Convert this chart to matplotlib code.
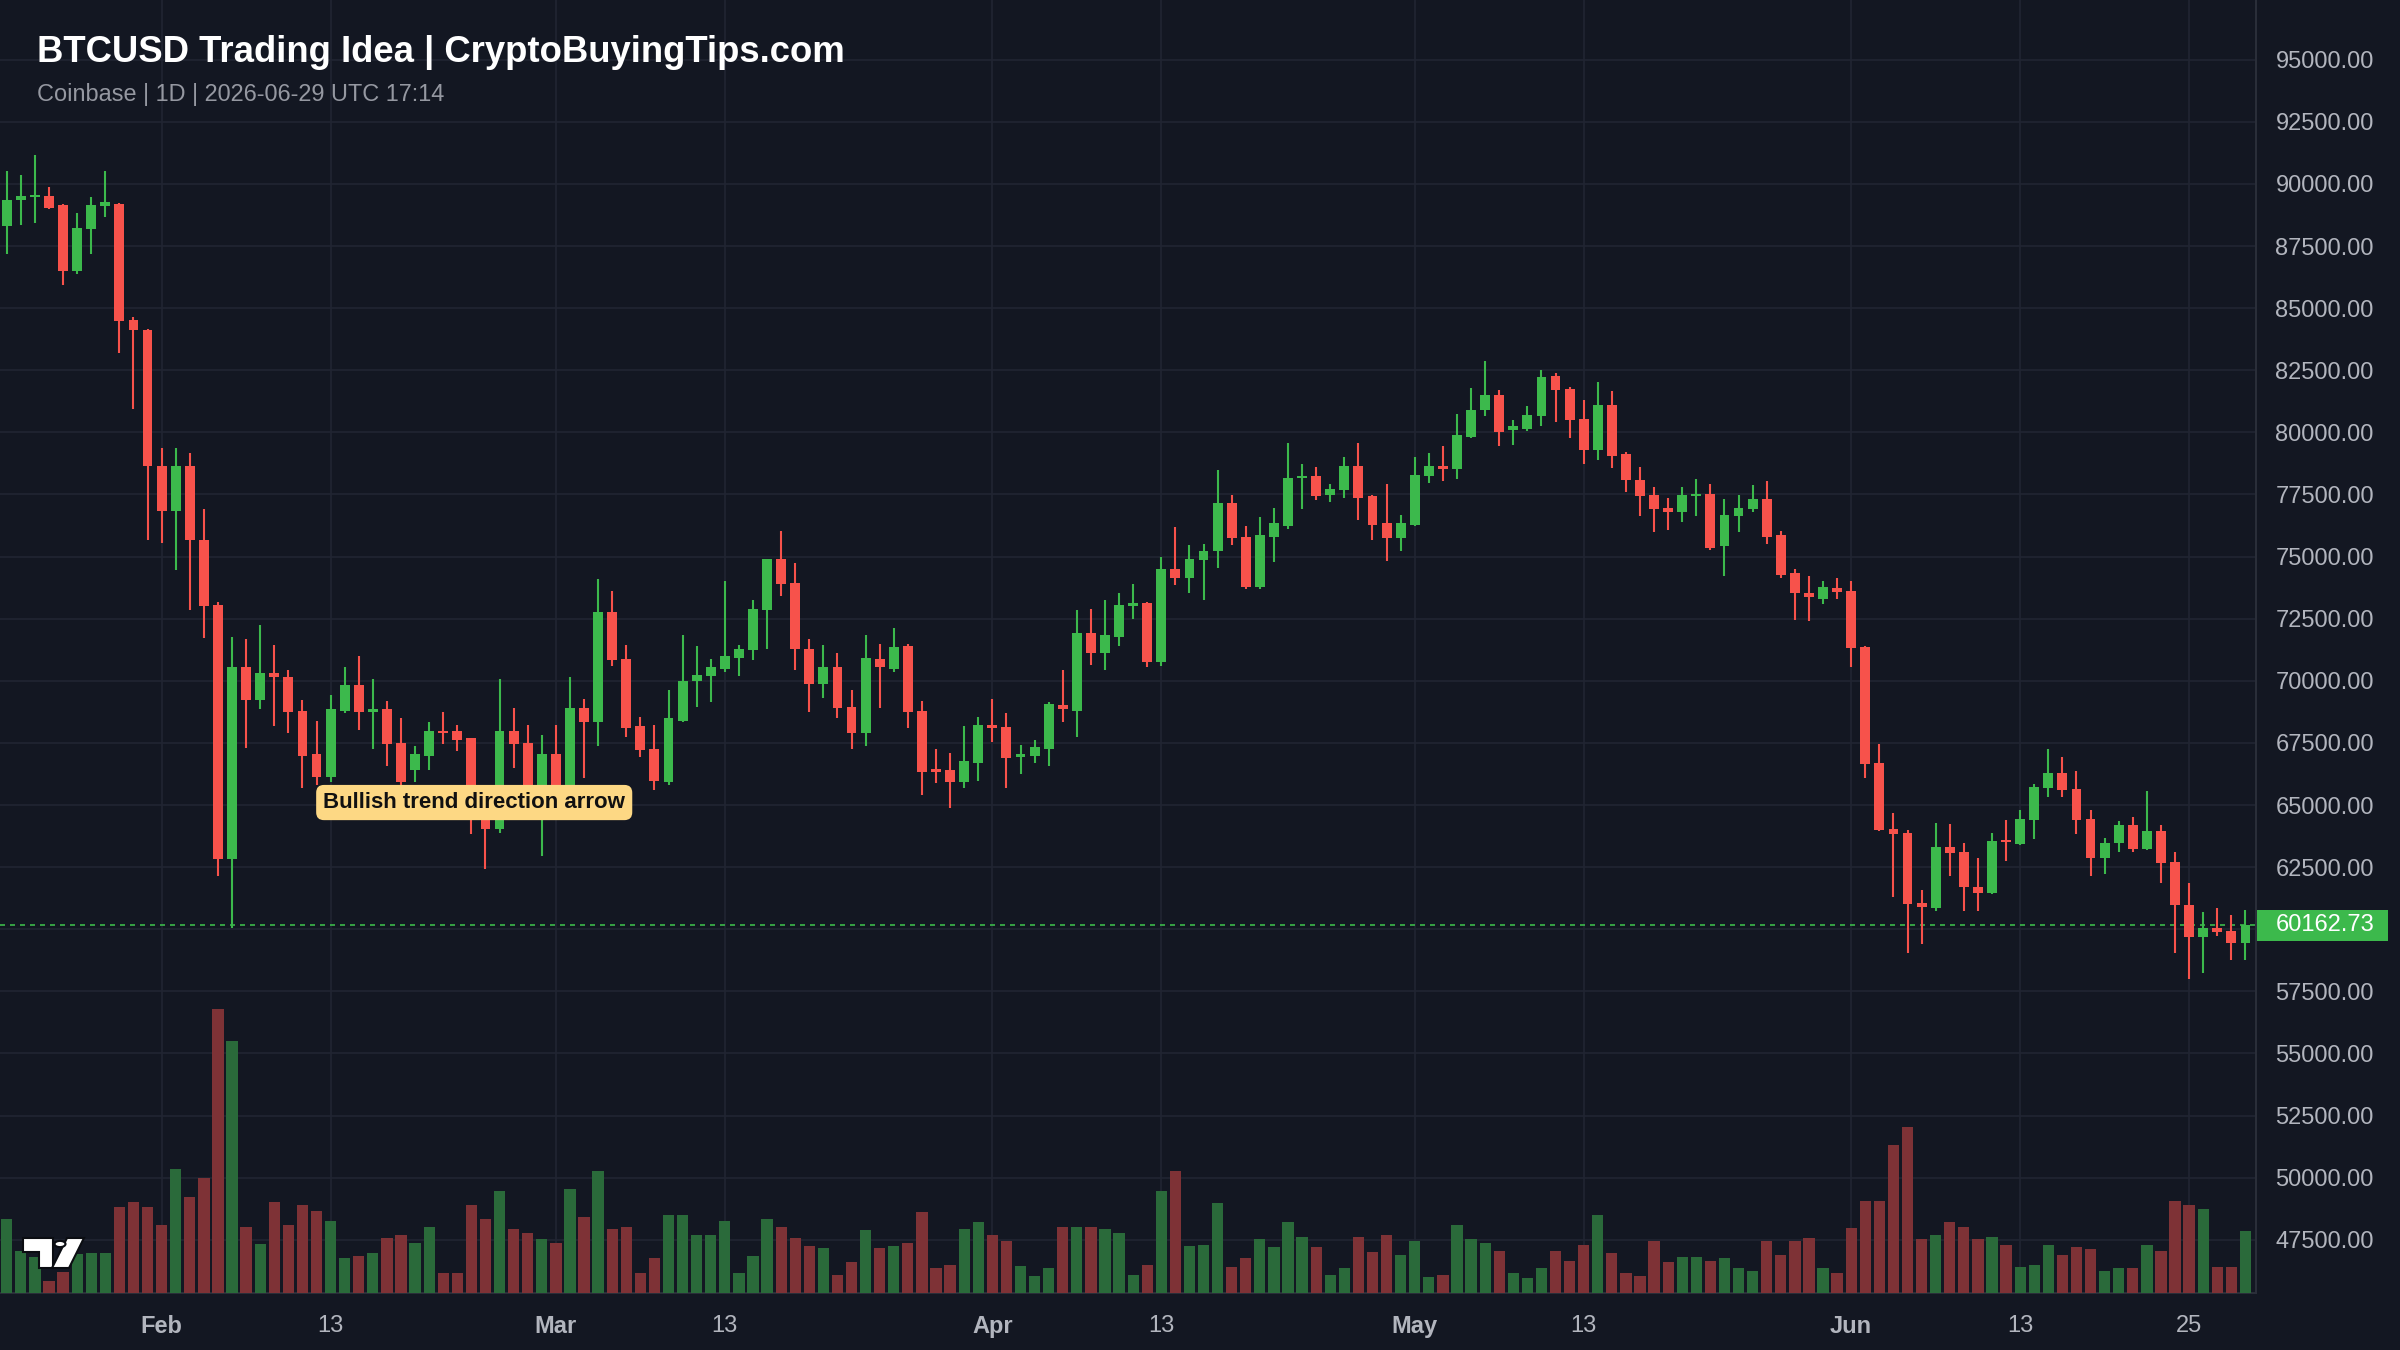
import numpy as np
import pandas as pd
import matplotlib
matplotlib.use("Agg")
import matplotlib.pyplot as plt
from matplotlib.patches import Rectangle, Polygon, Circle
from matplotlib.transforms import blended_transform_factory

# daily candles, Coinbase BTCUSD, 2026-01-21 .. 2026-06-29
start_date = "2026-01-21"
opens = [88290, 89350, 89460, 89500, 89140, 86480, 88170, 89120, 89210, 84520,
         84140, 78660, 76850, 78660, 75680, 73070, 62810, 70540, 69230, 70310,
         70160, 68780, 67040, 66140, 68800, 69820, 68740, 68850, 67500, 66410,
         66980, 67990, 67990, 67680, 65350, 64050, 67990, 67500, 65690, 67040,
         65580, 68890, 68350, 72750, 70880, 68170, 67270, 65920, 68400, 69980,
         70200, 70490, 70920, 71220, 72860, 74890, 73920, 71280, 69860, 70540,
         68960, 67880, 70880, 70490, 71400, 68800, 66440, 66410, 65920, 66710,
         68240, 68130, 66930, 66980, 67270, 69030, 68800, 71940, 71100, 71780,
         73020, 73130, 70770, 74490, 74150, 74870, 75210, 77150, 75770, 73760,
         75790, 76240, 78160, 78250, 77460, 77690, 78660, 77420, 76340, 75730,
         76290, 78250, 78660, 78540, 79830, 80910, 81500, 80080, 80120, 80640,
         82270, 81750, 80530, 79290, 81090, 79110, 78090, 77460, 76970, 76790,
         77420, 77530, 75430, 76630, 76920, 77300, 75880, 74330, 73520, 73310,
         73740, 73630, 71370, 66710, 64050, 63890, 61070, 60840, 63320, 63100,
         61700, 61450, 63590, 63440, 64410, 65690, 66300, 65650, 64450, 62870,
         63480, 64180, 63210, 63960, 62690, 60960, 59670, 60050, 59940, 59450]
highs = [90500, 90340, 91170, 89870, 89200, 88810, 89480, 90500, 89250, 84630,
         84150, 79380, 79380, 79150, 76900, 73180, 71780, 71670, 72230, 71440,
         70430, 69230, 68400, 69410, 70540, 70990, 70090, 69190, 68510, 67380,
         68330, 68740, 68240, 67700, 65690, 70090, 68890, 68240, 67830, 68240,
         70160, 69250, 74100, 73630, 71440, 68560, 68240, 69640, 71850, 71400,
         70880, 74030, 71440, 73250, 74900, 76020, 74760, 71670, 71440, 71100,
         69640, 71850, 71490, 72120, 71490, 69190, 67270, 67110, 68170, 68560,
         69250, 68690, 67430, 67610, 69140, 70430, 72840, 72910, 73250, 73540,
         73880, 73180, 74980, 76180, 75460, 75500, 78480, 77460, 76240, 76580,
         76970, 79560, 78730, 78590, 77940, 79000, 79560, 77490, 77940, 76670,
         79000, 79150, 79450, 80730, 81770, 82870, 81700, 80510, 81070, 82490,
         82380, 81810, 81320, 82040, 81660, 79220, 78590, 77800, 77370, 77820,
         78140, 77910, 77300, 77460, 77870, 78050, 76020, 74490, 74220, 74030,
         74150, 74030, 71400, 67450, 64680, 64000, 61560, 64290, 64230, 63480,
         62870, 63890, 64380, 64790, 65850, 67270, 66930, 66370, 64790, 63660,
         64340, 64520, 65580, 64180, 63100, 61860, 60690, 60840, 60570, 60780]
lows = [87180, 88350, 88440, 88990, 85940, 86390, 87160, 88670, 83210, 80960,
        75660, 75550, 74440, 72840, 71710, 62130, 60050, 67290, 68850, 68170,
        67880, 65690, 65800, 65920, 68690, 68010, 67270, 66590, 65470, 65920,
        66410, 67450, 67160, 63820, 62420, 63890, 66480, 65130, 62940, 65130,
        65240, 66100, 67380, 70610, 67720, 66930, 65620, 65800, 68350, 68960,
        69140, 70360, 70200, 70830, 71280, 73430, 70430, 68740, 69300, 68510,
        67270, 67380, 68920, 70360, 68100, 65420, 65870, 64900, 65690, 65960,
        67540, 65690, 66260, 66710, 66590, 68350, 67720, 70650, 70430, 71400,
        72500, 70540, 70610, 73850, 73520, 73250, 74550, 75460, 73700, 73700,
        74780, 76130, 76920, 77260, 77190, 77350, 76470, 75660, 74820, 75230,
        76220, 77980, 78050, 78140, 79790, 80640, 79450, 79510, 80060, 80240,
        80420, 79790, 78730, 78880, 78550, 77580, 76630, 76000, 76060, 76400,
        76630, 75280, 74220, 76000, 76790, 75500, 74150, 72460, 72390, 73090,
        73290, 70540, 66100, 63950, 61290, 59060, 59420, 60730, 62130, 60730,
        60730, 61410, 62760, 63390, 63620, 65310, 65310, 63840, 62150, 62240,
        63100, 63100, 63200, 61860, 59060, 57980, 58250, 59720, 58780, 58780]
closes = [89370, 89530, 89550, 89050, 86510, 88240, 89140, 89260, 84500, 84110,
          78640, 76850, 78660, 75660, 73000, 62810, 70540, 69230, 70310, 70160,
          68740, 66980, 66140, 68850, 69820, 68740, 68850, 67450, 65920, 67040,
          67990, 67880, 67610, 65240, 64050, 67990, 67450, 65690, 67040, 65470,
          68890, 68350, 72750, 70830, 68100, 67220, 65960, 68510, 69980, 70250,
          70540, 70990, 71280, 72910, 74890, 73880, 71260, 69860, 70540, 68920,
          67880, 70920, 70540, 71370, 68740, 66320, 66320, 65920, 66770, 68240,
          68100, 66890, 67040, 67340, 69070, 68850, 71940, 71100, 71830, 73070,
          73130, 70770, 74490, 74150, 74890, 75230, 77150, 75730, 73760, 75880,
          76360, 78160, 78250, 77420, 77710, 78660, 77350, 76290, 75730, 76340,
          78270, 78660, 78540, 79900, 80910, 81500, 80010, 80240, 80690, 82220,
          81700, 80510, 79290, 81090, 79060, 78090, 77420, 76920, 76810, 77490,
          77530, 75340, 76670, 76970, 77300, 75790, 74260, 73520, 73360, 73760,
          73580, 71330, 66660, 64000, 63820, 61020, 60890, 63320, 63050, 61700,
          61450, 63550, 63500, 64450, 65740, 66300, 65620, 64410, 62870, 63480,
          64180, 63210, 63960, 62650, 60960, 59670, 60050, 59900, 59450, 60162.73]
volumes = [6660, 3810, 3210, 1110, 1860, 3510, 3600, 3600, 7770, 8160,
           7770, 6150, 11160, 8670, 10320, 25560, 22710, 5970, 4410, 8160,
           6150, 7950, 7410, 6510, 3120, 3300, 3600, 4920, 5250, 4500,
           5970, 1800, 1800, 7950, 6660, 9210, 5760, 5400, 4860, 4500,
           9360, 6870, 11010, 5760, 5970, 1800, 3120, 7050, 7050, 5250,
           5250, 6510, 1800, 3300, 6660, 5970, 4920, 4200, 4020, 1650,
           2760, 5670, 4020, 4200, 4500, 7260, 2220, 2550, 5760, 6360,
           5250, 4710, 2400, 1500, 2220, 5970, 5970, 5970, 5760, 5400,
           1650, 2550, 9210, 11010, 4200, 4350, 8130, 2370, 3120, 4860,
           4170, 6360, 5010, 4170, 1650, 2220, 5070, 3660, 5250, 3450,
           4710, 1470, 1650, 6120, 4860, 4500, 3810, 1800, 1320, 2220,
           3810, 2910, 4350, 7050, 3600, 1800, 1500, 4710, 2760, 3270,
           3270, 2910, 3120, 2220, 2010, 4710, 3450, 4710, 4920, 2220,
           1800, 5820, 8310, 8310, 13350, 14970, 4860, 5250, 6360, 5970,
           4860, 5010, 4350, 2370, 2550, 4350, 3450, 4170, 3960, 2010,
           2220, 2220, 4350, 3810, 8310, 7950, 7560, 2370, 2370, 5610]

tick_dates = ["2026-02-01", "2026-02-13", "2026-03-01", "2026-03-13", "2026-04-01",
              "2026-04-13", "2026-05-01", "2026-05-13", "2026-06-01", "2026-06-13",
              "2026-06-25"]
tick_labels = ["Feb", "13", "Mar", "13", "Apr", "13", "May", "13", "Jun", "13", "25"]
price_ticks = list(range(47500, 95001, 2500))
last_price = closes[-1]

title = "BTCUSD Trading Idea | CryptoBuyingTips.com"
subtitle = "Coinbase | 1D | 2026-06-29 UTC 17:14"
note = "Bullish trend direction arrow"

BG = "#131722"
GRID = "#212532"
UP = "#3cb94c"
DOWN = "#f7524b"
UP_VOL = "#2a6a3a"
DOWN_VOL = "#7e3236"
TXT = "#b2b5be"

plt.rcParams["font.family"] = ["Liberation Sans", "DejaVu Sans"]

W, H = 2400, 1350
fig = plt.figure(figsize=(24, 13.5), dpi=100, facecolor=BG)
rect = [0, (H - 1293) / H, 2256 / W, 1293 / H]
ax = fig.add_axes(rect, facecolor=BG)

dates = pd.date_range(start_date, periods=len(opens))
x = np.arange(len(opens))
o = np.array(opens, dtype=float)
c = np.array(closes, dtype=float)
hi = np.array(highs, dtype=float)
lo = np.array(lows, dtype=float)
up = c >= o
colors = np.where(up, UP, DOWN)

# wicks and bodies
ax.vlines(x, lo, hi, colors=colors, linewidth=1.5, zorder=3)
body_bottom = np.minimum(o, c)
body_h = np.maximum(np.abs(c - o), 90)
ax.bar(x, body_h, bottom=body_bottom, width=0.7, color=colors, zorder=4, linewidth=0)

ax.set_xlim(-0.48, 159.75)
ax.set_ylim(45358, 97403)

# grid
xt = dates.get_indexer(pd.to_datetime(tick_dates))
for xv in xt:
    ax.axvline(xv, color=GRID, linewidth=1.2, zorder=0)
for p in price_ticks:
    ax.axhline(p, color=GRID, linewidth=1.2, zorder=0)

# volume overlay (twinx moves the main y ticks to the left, so set them afterwards)
axv = ax.twinx()
axv.bar(x, volumes, width=0.8, color=np.where(up, UP_VOL, DOWN_VOL),
        linewidth=0, zorder=1)
axv.set_ylim(0, 116400)
axv.set_xlim(ax.get_xlim())
axv.yaxis.set_visible(False)
for s in axv.spines.values():
    s.set_visible(False)
axv.patch.set_visible(False)

ax.set_xticks(xt)
ax.set_xticklabels(tick_labels)
for lab in ax.get_xticklabels():
    lab.set_fontweight("bold" if lab.get_text().isalpha() else "normal")
ax.tick_params(axis="x", length=0, pad=16, labelsize=17, labelcolor=TXT)

ax.yaxis.tick_right()
ax.yaxis.set_label_position("right")
ax.set_yticks(price_ticks)
ax.set_yticklabels(["" if p == 60000 else f"{p:.2f}" for p in price_ticks])
ax.tick_params(axis="y", which="both", left=False, labelleft=False,
               right=True, labelright=True, length=0, pad=14,
               labelsize=17, labelcolor=TXT)

for side in ["left", "top"]:
    ax.spines[side].set_visible(False)
for side in ["right", "bottom"]:
    ax.spines[side].set_color("#2a2e39")
    ax.spines[side].set_linewidth(1.5)

# current price line + label
ax.axhline(last_price, color=UP, linewidth=1.2, linestyle=(0, (3, 3)), zorder=2)
bt = blended_transform_factory(ax.transAxes, ax.transData)
lab_h = 31 / 1293 * (97403 - 45358)
ax.add_patch(Rectangle((1.0005, last_price - lab_h / 2), 131 / 2256, lab_h,
                       transform=bt, facecolor=UP, edgecolor="none",
                       clip_on=False, zorder=5))
ax.text(1 + 20 / 2256, last_price, f"{last_price:.2f}", transform=bt,
        color="white", fontsize=17, va="center", ha="left", zorder=6)

# note label
ax.text(33.2, 65100, note, fontsize=16, fontweight="bold", color="#111111",
        ha="center", va="center", zorder=7,
        bbox=dict(boxstyle="round,pad=0.32,rounding_size=0.35",
                  facecolor="#fdd884", edgecolor="none"))

# header
fig.text(37 / W, 1 - 52 / H, title, color="white", fontsize=26.3,
         fontweight="bold", va="center", ha="left")
fig.text(37 / W, 1 - 95 / H, subtitle, color="#9598a1", fontsize=16.9,
         va="center", ha="left")

# logo mark bottom-left
def px(xp, yp):
    return (xp / W, 1 - yp / H)

logo = dict(facecolor="white", edgecolor="#0b0d12", linewidth=1.5,
            transform=fig.transFigure, zorder=10)
fig.patches.append(Polygon([px(23, 1238), px(53, 1238), px(53, 1268), px(39, 1268),
                            px(39, 1252), px(23, 1252)], closed=True, **logo))
fig.patches.append(Polygon([px(67, 1238), px(84, 1238), px(69, 1268), px(52, 1268)],
                           closed=True, **logo))
fig.patches.append(Circle(px(60, 1244), 5.5 / W, **logo))

fig.savefig("out.png", dpi=100, facecolor=BG)
